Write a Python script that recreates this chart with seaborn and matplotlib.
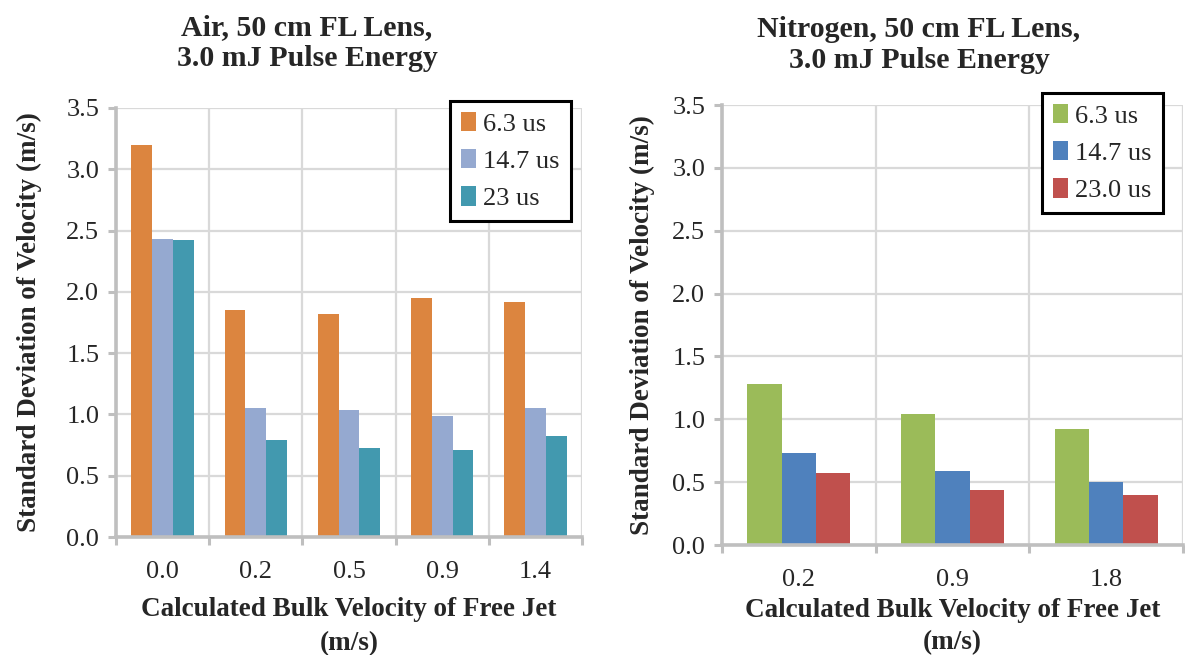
import matplotlib
matplotlib.use('Agg')
import matplotlib.pyplot as plt
import seaborn as sns
import pandas as pd
import numpy as np

sns.set_style('white')
plt.rcParams['font.family'] = ['Liberation Serif', 'DejaVu Serif']

# datos
air_velocity = ['0.0', '0.2', '0.5', '0.9', '1.4']
air_delays = ['6.3 us', '14.7 us', '23 us']
air_63 = [3.20, 1.85, 1.82, 1.95, 1.92]
air_147 = [2.43, 1.05, 1.04, 0.99, 1.05]
air_23 = [2.42, 0.79, 0.73, 0.71, 0.82]
air_colors = ['#DC853F', '#95A9D0', '#4299AF']

n2_velocity = ['0.2', '0.9', '1.8']
n2_delays = ['6.3 us', '14.7 us', '23.0 us']
n2_63 = [1.28, 1.04, 0.92]
n2_147 = [0.73, 0.59, 0.50]
n2_230 = [0.57, 0.44, 0.40]
n2_colors = ['#9BBB59', '#4F81BD', '#C0504D']

GRAY = '#bfbfbf'
GRID = '#d9d9d9'
W, H = 1185, 655
FS = 19


def long_df(vel, delays, series):
    rows = []
    for d, vals in zip(delays, series):
        for v, s in zip(vel, vals):
            rows.append({'vel': v, 'delay': d, 'std': s})
    return pd.DataFrame(rows)


def panel(ax, vel, delays, series, colors, title, title_xy, leg_anchor, ylab_x, xlab_y, xlab_ls):
    df = long_df(vel, delays, series)
    sns.barplot(data=df, x='vel', y='std', hue='delay', order=vel, hue_order=delays,
                palette=colors, width=0.67, linewidth=0, saturation=1, ax=ax)
    n = len(vel)
    ax.set_xlim(-0.5, n - 0.5)
    ax.set_ylim(0, 3.5)
    ax.set_yticks(np.arange(0, 3.51, 0.5))
    ax.set_yticklabels([f'{t:.1f}' for t in np.arange(0, 3.51, 0.5)])
    ax.set_xticks(np.arange(-0.5, n, 1), minor=True)
    ax.set_axisbelow(True)
    ax.yaxis.grid(True, color=GRID, lw=1.6)
    ax.xaxis.grid(True, which='minor', color=GRID, lw=1.6)
    ax.tick_params(axis='x', which='major', length=0, labelsize=FS, pad=17, bottom=True)
    ax.tick_params(axis='x', which='minor', length=6, width=2.2, color=GRAY, bottom=True)
    ax.tick_params(axis='y', length=6, width=2.2, color=GRAY, labelsize=FS, pad=6, left=True)
    for s in ['top', 'right']:
        ax.spines[s].set_visible(False)
    for s in ['left', 'bottom']:
        ax.spines[s].set_color(GRAY)
        ax.spines[s].set_linewidth(2.6)

    ax.set_ylabel('Standard Deviation of Velocity (m/s)', fontsize=19.5, fontweight='bold')
    ax.yaxis.set_label_coords(ylab_x, 0.5)
    ax.set_xlabel('Calculated Bulk Velocity of Free Jet\n(m/s)', fontsize=19.5,
                  fontweight='bold', linespacing=xlab_ls)
    ax.xaxis.set_label_coords(0.5, xlab_y)

    ax.legend(loc='upper right', bbox_to_anchor=leg_anchor, bbox_transform=fig.transFigure,
              borderaxespad=0, fontsize=FS, frameon=True, fancybox=False,
              edgecolor='black', framealpha=1, handlelength=0.55, handleheight=0.75,
              handletextpad=0.3, labelspacing=0.5, borderpad=0.42)
    ax.get_legend().get_frame().set_linewidth(2.2)

    fig.text(title_xy[0], title_xy[1], title, ha='center', va='center', fontsize=21.5,
             fontweight='bold', linespacing=1.2)


fig = plt.figure(figsize=(W / 100, H / 100), dpi=100)

ax1 = fig.add_axes([116 / W, 1 - 537 / H, 466 / W, 429 / H])
ax2 = fig.add_axes([722 / W, 1 - 545 / H, 461 / W, 440 / H])

panel(ax1, air_velocity, air_delays, [air_63, air_147, air_23], air_colors,
      'Air, 50 cm FL Lens,\n3.0 mJ Pulse Energy', (307 / W, 1 - 43 / H),
      (571 / W, 1 - 101 / H), (42 - 116) / 466, (537 - 597) / 429, 1.5)
panel(ax2, n2_velocity, n2_delays, [n2_63, n2_147, n2_230], n2_colors,
      'Nitrogen, 50 cm FL Lens,\n3.0 mJ Pulse Energy', (919 / W, 1 - 45 / H),
      (1163 / W, 1 - 93 / H), (655 - 722) / 461, (545 - 598) / 440, 1.35)

fig.savefig('out.png', dpi=100)
